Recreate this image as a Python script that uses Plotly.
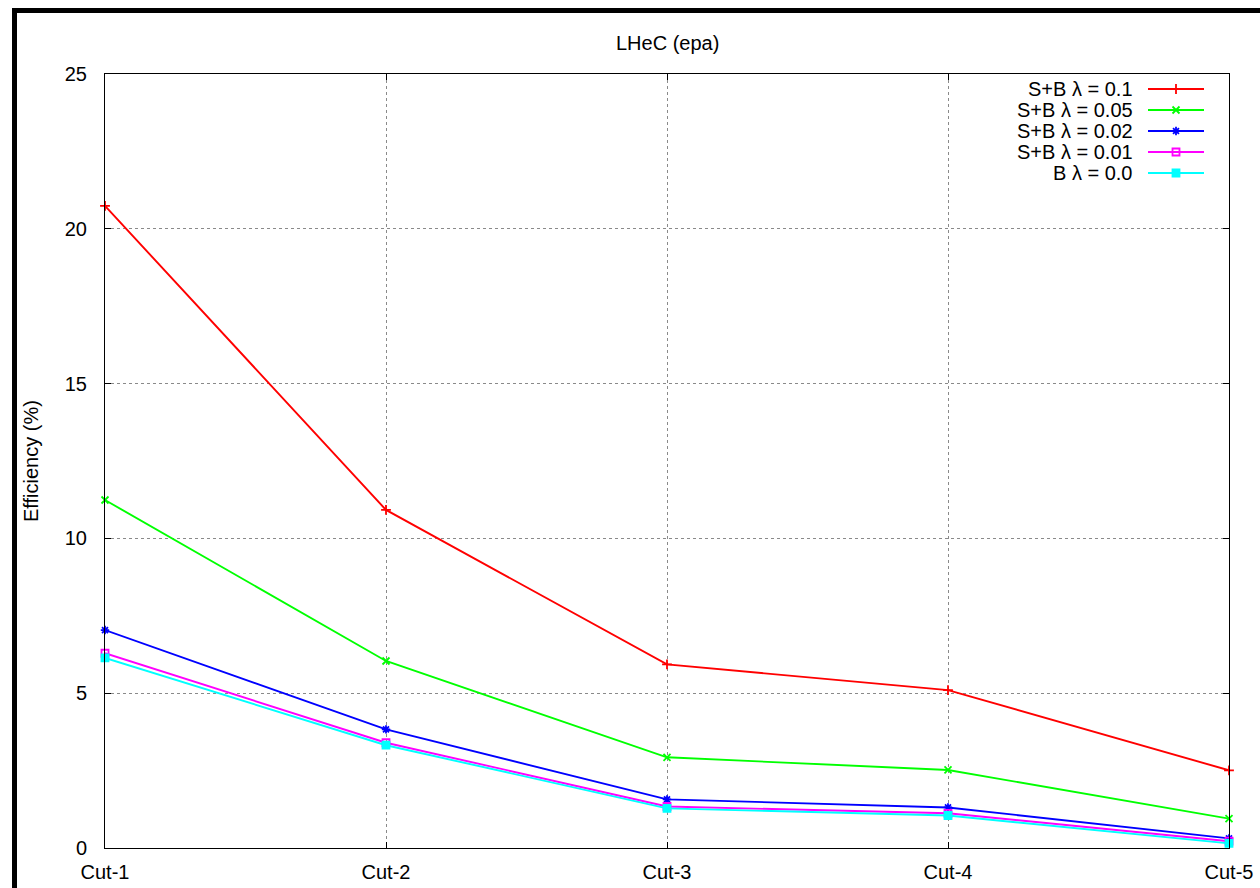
import plotly.graph_objects as go

# ---- data ----
cuts = ["Cut-1", "Cut-2", "Cut-3", "Cut-4", "Cut-5"]
sb_01 = [20.74, 10.92, 5.93, 5.10, 2.51]
sb_005 = [11.24, 6.04, 2.93, 2.52, 0.95]
sb_002 = [7.04, 3.83, 1.57, 1.31, 0.31]
sb_001 = [6.29, 3.40, 1.34, 1.12, 0.22]
b_00 = [6.14, 3.32, 1.28, 1.05, 0.15]
names = ["S+B λ = 0.1", "S+B λ = 0.05", "S+B λ = 0.02", "S+B λ = 0.01", "B λ = 0.0"]
series = [sb_01, sb_005, sb_002, sb_001, b_00]
y_ticks = [0, 5, 10, 15, 20, 25]

colors = ["#ff0000", "#00ff00", "#0000ff", "#ff00ff", "#00ffff"]
symbols = ["cross-thin-open", "x-thin-open", "asterisk-open", "square-open", "square"]

# ---- layout geometry (pixels) ----
FW, FH = 1260, 888
L, R, T, B = 105, 1229, 74, 848
PW, PH = R - L, B - T


def px(x):
    return (x - L) / PW


def py(y):
    return (B - y) / PH


FONT = "Liberation Sans, Arial, Helvetica, sans-serif"

fig = go.Figure()
for name, vals, c, s in zip(names, series, colors, symbols):
    fig.add_trace(go.Scatter(
        x=cuts, y=vals, name=name, mode="lines+markers",
        line=dict(color=c, width=1.9),
        marker=dict(symbol=s, size=7, color=c, line=dict(color=c, width=1.8)),
        cliponaxis=False, showlegend=False,
    ))

# custom gnuplot-style key (text right, sample at right)
key_y = [89, 110, 131, 152, 173]
for name, c, s, ky in zip(names, colors, symbols, key_y):
    fig.add_trace(go.Scatter(
        x=[1148, 1176, 1204], y=[ky, ky, ky], mode="lines",
        line=dict(color=c, width=1.9), xaxis="x2", yaxis="y2",
        showlegend=False, hoverinfo="skip", cliponaxis=False,
    ))
    fig.add_trace(go.Scatter(
        x=[1176], y=[ky], mode="markers",
        marker=dict(symbol=s, size=7, color=c, line=dict(color=c, width=1.8)),
        xaxis="x2", yaxis="y2", showlegend=False, hoverinfo="skip", cliponaxis=False,
    ))
    fig.add_annotation(x=px(1135), y=py(ky), xref="paper", yref="paper",
                       text=name, showarrow=False, xanchor="right", yanchor="middle",
                       font=dict(family=FONT, size=20, color="black"))

# title and y label
fig.add_annotation(x=0.5, y=py(43), xref="paper", yref="paper", text="LHeC (epa)",
                   showarrow=False, xanchor="center", yanchor="middle",
                   font=dict(family=FONT, size=20, color="black"))
fig.add_annotation(x=px(31), y=0.5, xref="paper", yref="paper", text="Efficiency (%)",
                   showarrow=False, textangle=-90, xanchor="center", yanchor="middle",
                   font=dict(family=FONT, size=20, color="black"))

# thick black border (top and left)
fig.add_shape(type="rect", xref="paper", yref="paper",
              x0=px(12), x1=px(17), y0=py(FH + 5), y1=py(8),
              fillcolor="black", line=dict(width=0), layer="above")
fig.add_shape(type="rect", xref="paper", yref="paper",
              x0=px(12), x1=px(FW + 5), y0=py(13), y1=py(8),
              fillcolor="black", line=dict(width=0), layer="above")

fig.update_layout(
    width=FW, height=FH,
    margin=dict(l=L, r=FW - R, t=T, b=FH - B, pad=0, autoexpand=False),
    paper_bgcolor="white", plot_bgcolor="white",
    font=dict(family=FONT, size=20, color="black"),
    showlegend=False,
    xaxis=dict(
        type="category", categoryorder="array", categoryarray=cuts,
        range=[0, len(cuts) - 1], showline=True, linecolor="black", linewidth=1,
        mirror="ticks", ticks="inside", ticklen=6, tickcolor="black",
        showgrid=True, gridcolor="#8a8a8a", griddash="dot", gridwidth=1,
        zeroline=False, tickfont=dict(family=FONT, size=20, color="black"),
        ticklabelstandoff=6, automargin=False,
    ),
    yaxis=dict(
        range=[0, 25], tickvals=y_ticks, ticktext=[str(v) for v in y_ticks],
        showline=True, linecolor="black", linewidth=1,
        mirror="ticks", ticks="inside", ticklen=6, tickcolor="black",
        showgrid=True, gridcolor="#8a8a8a", griddash="dot", gridwidth=1,
        zeroline=False, tickfont=dict(family=FONT, size=20, color="black"),
        ticklabelstandoff=13, automargin=False,
    ),
    xaxis2=dict(range=[L, R], overlaying="x", visible=False, fixedrange=True),
    yaxis2=dict(range=[B, T], overlaying="y", visible=False, fixedrange=True),
)

fig.write_html(
    "out.html",
    config={"displayModeBar": False, "staticPlot": True},
    post_script="document.body.style.margin='0';document.body.style.overflow='hidden';",
)
